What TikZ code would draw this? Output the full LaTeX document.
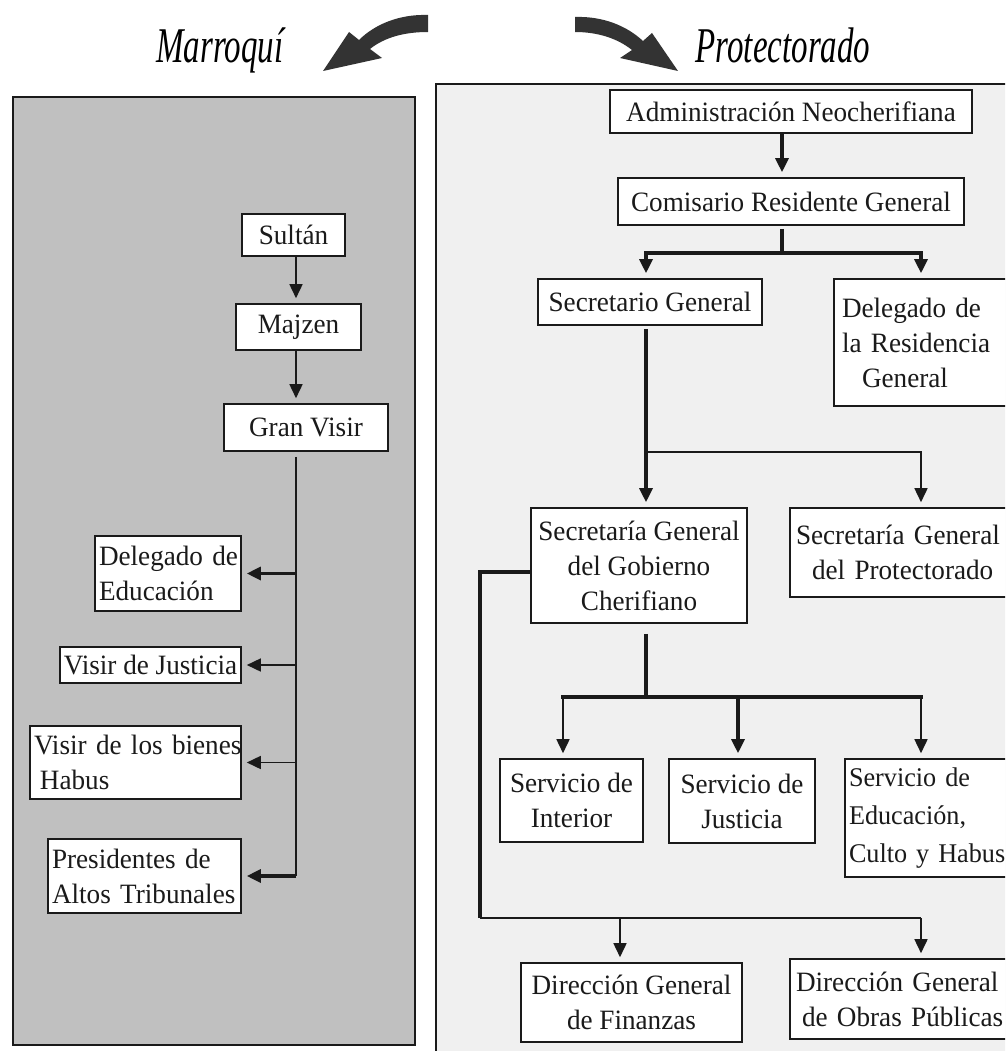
\documentclass[tikz,border=0pt]{standalone}
\usepackage{fontspec}
\setmainfont{Liberation Serif}[FakeStretch=0.97]
\newfontfamily\titlefont{Liberation Serif}[FakeStretch=0.66]
\usetikzlibrary{arrows.meta}
\definecolor{leftgray}{HTML}{C0C0C0}
\definecolor{rightgray}{HTML}{F0F0F0}
\definecolor{ink}{HTML}{1A1A1A}
\definecolor{swoosh}{HTML}{333333}
\begin{document}
\begin{tikzpicture}[x=1pt,y=-1pt,
  box/.style={draw=ink,fill=white,line width=1.6pt,inner sep=4pt,
    font=\fontsize{28pt}{35pt}\selectfont,text=ink,align=center},
  lbox/.style={box,align=left},
  thinline/.style={line width=1.6pt,draw=ink},
  thickline/.style={line width=3.2pt,draw=ink},
  arr/.style={-{Triangle[width=13pt,length=14pt]},shorten >=5pt},
  titlestyle/.style={font=\titlefont\itshape\fontsize{50pt}{50pt}\selectfont,text=black,anchor=base}
]
\useasboundingbox (0,0) rectangle (1005,1051);
\fill[white] (0,0) rectangle (1005,1051);
\clip (0,0) rectangle (1005,1051);

% titles and swooshes
\node[titlestyle] (ttl) at (220,63) {Marroquí};
\node[titlestyle] (ttr) at (783,63) {Protectorado};
\fill[swoosh] (428,15) .. controls (400,14) and (375,24) .. (359,40) -- (349,32) -- (323,71) -- (382,58) -- (370,49) .. controls (385,37) and (405,32) .. (428,32) -- cycle;
\fill[swoosh] (575,17) .. controls (603,16) and (627,26) .. (643,41) -- (652,33) -- (678,71) -- (620,58) -- (632,50) .. controls (617,38) and (597,32) .. (575,32) -- cycle;

% panels
\draw[line width=2pt,draw=ink,fill=leftgray] (13,97) rectangle (415,1045);
\draw[line width=2pt,draw=ink,fill=rightgray] (436,84) rectangle (1030,1070);

% left boxes
\node[box,minimum width=103pt,minimum height=42pt] (sultan) at (293.5,235) {Sultán};
\node[box,minimum width=125pt,minimum height=46pt] (majzen) at (298.5,327) {Majzen};
\node[box,minimum width=164pt,minimum height=47pt] (granvisir) at (306,427.5) {Gran Visir};
\node[lbox,text width=138pt,minimum height=75pt] (deleg) at (168,573.5) {\mbox{Delegado de}\\Educación};
\node[box,minimum width=181pt,minimum height=36pt,inner sep=2pt] (vjust) at (150.5,665) {\mbox{Visir de Justicia}};
\node[lbox,text width=203pt,minimum height=73pt] (vhabus) at (135.5,762.5) {\mbox{Visir de los bienes}\\\hspace*{6pt}Habus};
\node[lbox,text width=185pt,minimum height=74pt] (pres) at (144.5,876) {\mbox{Presidentes de}\\\mbox{Altos Tribunales}};

% right boxes
\node[box,minimum width=362pt,minimum height=43pt] (admin) at (791,111.5) {Administración Neocherifiana};
\node[box,minimum width=346pt,minimum height=47pt] (comis) at (791,201.5) {Comisario Residente General};
\node[box,minimum width=224pt,minimum height=46pt] (secgen) at (650,302) {Secretario General};
\node[lbox,text width=184pt,minimum height=127pt,inner sep=8pt] (delres) at (934,342.5) {Delegado de\\la Residencia\\\hspace*{20pt}General};
\node[box,minimum width=216pt,minimum height=115pt] (gob) at (639,565.5) {\mbox{Secretaría General}\\del Gobierno\\Cherifiano};
\node[lbox,text width=239pt,minimum height=89pt,inner sep=6pt] (prot) at (915.5,552.5) {\mbox{Secretaría General}\\\hspace*{16pt}del Protectorado};
\node[box,minimum width=143pt,minimum height=83pt] (sint) at (571.5,800.5) {Servicio de\\Interior};
\node[box,minimum width=146pt,minimum height=84pt] (sjus) at (742,801) {Servicio de\\Justicia};
\node[lbox,text width=187pt,minimum height=118pt,font=\fontsize{27pt}{38pt}\selectfont] (sedu) at (942.5,818) {Servicio de\\Educación,\\\mbox{Culto y Habus}};
\node[box,minimum width=221pt,minimum height=79pt] (dfin) at (631.5,1002.5) {\mbox{Dirección General}\\de Finanzas};
\node[lbox,text width=239pt,minimum height=80pt,inner sep=6pt] (dobr) at (915.5,999) {\mbox{Dirección General}\\\hspace*{6pt}de Obras Públicas};

% guide coordinates
\coordinate (lx) at (296,0);
\coordinate (rx) at (782,0);
\coordinate (sx) at (646,0);
\coordinate (dx) at (921,0);
\coordinate (ix) at (563,0);
\coordinate (jx) at (738,0);
\coordinate (fx) at (620,0);
\coordinate (j1) at (782,253);
\coordinate (j2) at (646,452);
\coordinate (j3) at (646,697);
\coordinate (j4) at (480,918);

% left connectors
\draw[thinline,arr] (sultan.south -| lx) -- (majzen.north -| lx);
\draw[thinline,arr] (majzen.south -| lx) -- (granvisir.north -| lx);
\draw[thinline] ([yshift=-5pt]granvisir.south -| lx) -- (lx |- pres.east);
\draw[thickline,arr] (lx |- deleg.east) -- (deleg.east);
\draw[thinline,arr] (lx |- vjust.east) -- (vjust.east);
\draw[thinline,arr] (lx |- vhabus.east) -- (vhabus.east);
\draw[thickline,arr] (lx |- pres.east) -- (pres.east);

% right connectors
\draw[thickline,arr] (admin.south -| rx) -- (comis.north -| rx);
\draw[thickline] ([yshift=-3pt]comis.south -| rx) -- (j1);
\draw[thickline,arr] (j1) -| (secgen.north -| sx);
\draw[thickline,arr] (j1) -| (delres.north -| dx);
\draw[thickline,arr] ([yshift=-3pt]secgen.south -| sx) -- (gob.north -| sx);
\draw[thinline,arr] (j2) -| (prot.north -| dx);
\draw[thickline] ([yshift=-10pt]gob.south -| sx) -- (j3);
\draw[thickline,line cap=rect] (j3 -| ix) -- (j3 -| dx);
\draw[thinline,arr] (j3 -| ix) -- (sint.north -| ix);
\draw[thickline,arr] (j3 -| jx) -- (sjus.north -| jx);
\draw[thinline,arr] (j3 -| dx) -- (sedu.north -| dx);
\draw[thickline] ([yshift=-6.5pt]gob.west) -| (j4);
\draw[thinline] (j4) -- (j4 -| dx);
\draw[thinline,arr] (j4 -| fx) -- (dfin.north -| fx);
\draw[thinline,arr] (j4 -| dx) -- (dobr.north -| dx);
\end{tikzpicture}
\end{document}
